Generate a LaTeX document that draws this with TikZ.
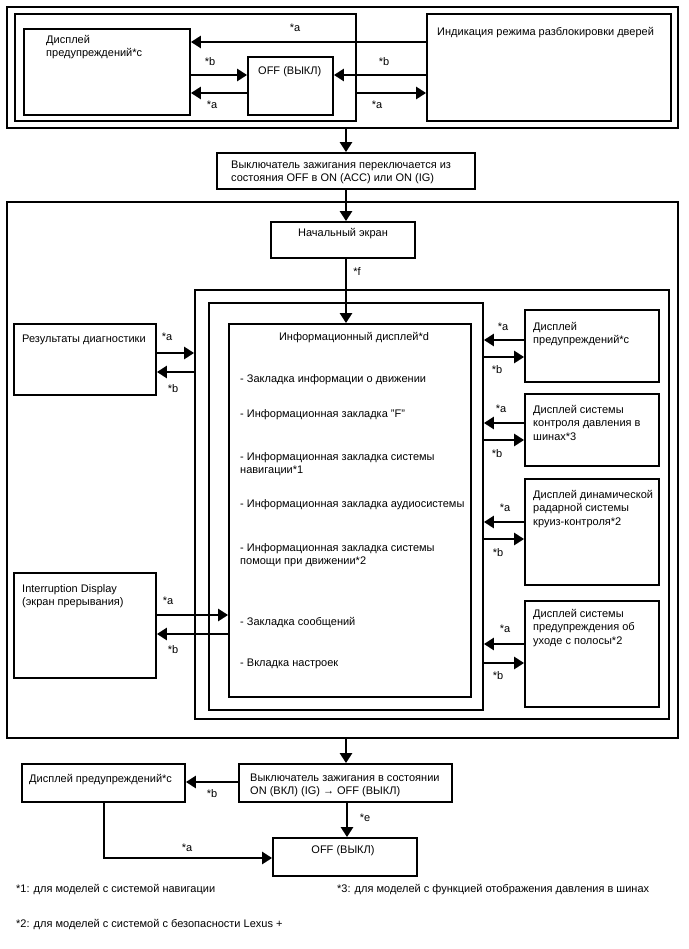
\documentclass[tikz,border=0pt]{standalone}
\usepackage{fontspec}
\setmainfont{Liberation Sans}
\usetikzlibrary{arrows.meta,fit}
\begin{document}
\begin{tikzpicture}[x=1pt,y=-1pt,
  box/.style={draw, line width=1.8pt, inner sep=0pt},
  txt/.style={anchor=north west, inner sep=0pt, yshift=-1.5pt, font=\fontsize{11}{13.5}\selectfont, align=left},
  ctxt/.style={inner sep=0pt, yshift=-1pt, font=\fontsize{11}{13.5}\selectfont},
  lbl/.style={inner sep=0pt, font=\fontsize{11}{13}\selectfont},
  arr/.style={line width=2.7pt, -{Triangle[length=10pt,width=12pt]}},
  ln/.style={line width=2.7pt}]
\useasboundingbox (0,0) rectangle (688,949);
% boxes
\node[box, fit={(7,7) (678,128)}] (A) {};
\node[box, fit={(15,14) (356,121)}] (B) {};
\node[box, fit={(24,29) (190,115)}] (warn1) {};
\node[box, fit={(248,57) (333,115)}] (off1) {};
\node[box, fit={(427,14) (671,121)}] (door) {};
\node[box, fit={(217,153) (475,189)}] (C) {};
\node[box, fit={(7,202) (678,738)}] (D) {};
\node[box, fit={(271,222) (415,258)}] (start) {};
\node[box, fit={(195,290) (669,719)}] (E) {};
\node[box, fit={(209,303) (483,710)}] (F) {};
\node[box, fit={(229,324) (471,697)}] (G) {};
\node[box, fit={(14,324) (156,395)}] (diag) {};
\node[box, fit={(14,573) (156,678)}] (intr) {};
\node[box, fit={(525,310) (659,382)}] (r1) {};
\node[box, fit={(525,394) (659,466)}] (r2) {};
\node[box, fit={(525,479) (659,585)}] (r3) {};
\node[box, fit={(525,601) (659,707)}] (r4) {};
\node[box, fit={(239,764) (452,802)}] (H) {};
\node[box, fit={(22,764) (185,802)}] (I) {};
\node[box, fit={(273,838) (417,876)}] (J) {};
% texts
\node[txt] (t-warn1) at (46,32) {\strut Дисплей\\предупреждений*c};
\node[txt] (t-off1) at (258,63) {\strut OFF (ВЫКЛ)};
\node[txt] (t-door) at (437,24) {\strut Индикация режима разблокировки дверей};
\node[txt] (t-C) at (231,157) {\strut Выключатель зажигания переключается из\\состояния OFF в ON (ACC) или ON (IG)};
\node[ctxt] (t-start) at (343,233) {Начальный экран};
\node[ctxt] (t-G) at (354,337) {Информационный дисплей*d};
\node[txt] (g1) at (240,371) {\strut - Закладка информации о движении};
\node[txt] (g2) at (240,406) {\strut - Информационная закладка "F"};
\node[txt] (g3) at (240,449) {\strut - Информационная закладка системы\\навигации*1};
\node[txt] (g4) at (240,496) {\strut - Информационная закладка аудиосистемы};
\node[txt] (g5) at (240,540) {\strut - Информационная закладка системы\\помощи при движении*2};
\node[txt] (g6) at (240,614) {\strut - Закладка сообщений};
\node[txt] (g7) at (240,655) {\strut - Вкладка настроек};
\node[txt] (t-diag) at (22,331) {\strut Результаты диагностики};
\node[txt] (t-intr) at (22,581) {\strut Interruption Display\\(экран прерывания)};
\node[txt] (t-r1) at (533,319) {\strut Дисплей\\предупреждений*c};
\node[txt] (t-r2) at (533,402) {\strut Дисплей системы\\контроля давления в\\шинах*3};
\node[txt] (t-r3) at (533,487) {\strut Дисплей динамической\\радарной системы\\круиз-контроля*2};
\node[txt] (t-r4) at (533,606) {\strut Дисплей системы\\предупреждения об\\уходе с полосы*2};
\node[txt] (t-H) at (250,770) {\strut Выключатель зажигания в состоянии\\ON (ВКЛ) (IG) → OFF (ВЫКЛ)};
\node[txt] (t-I) at (29,771) {\strut Дисплей предупреждений*c};
\node[ctxt] (t-J) at (343,850) {OFF (ВЫКЛ)};
\node[txt] (fn1) at (16,881) {\strut *1: для моделей с системой навигации};
\node[txt] (fn3) at (337,881) {\strut *3: для моделей с функцией отображения давления в шинах};
\node[txt] (fn2) at (16,916) {\strut *2: для моделей с системой с безопасности Lexus +};
% labels
\node[lbl] (la1) at (295,28) {*a};
\node[lbl] (lb1) at (210,62) {*b};
\node[lbl] (la2) at (212,105) {*a};
\node[lbl] (lb2) at (384,62) {*b};
\node[lbl] (la3) at (377,105) {*a};
\node[lbl] (lf) at (357,272) {*f};
\node[lbl] (la4) at (167,337) {*a};
\node[lbl] (lb4) at (173,389) {*b};
\node[lbl] (la5) at (168,601) {*a};
\node[lbl] (lb5) at (173,650) {*b};
\node[lbl] (la6) at (503,327) {*a};
\node[lbl] (lb6) at (497,370) {*b};
\node[lbl] (la7) at (501,409) {*a};
\node[lbl] (lb7) at (497,454) {*b};
\node[lbl] (la8) at (505,508) {*a};
\node[lbl] (lb8) at (498,553) {*b};
\node[lbl] (la9) at (505,629) {*a};
\node[lbl] (lb9) at (498,676) {*b};
\node[lbl] (lb10) at (212,794) {*b};
\node[lbl] (le) at (365,818) {*e};
\node[lbl] (la10) at (187,848) {*a};
% connectors
\coordinate (vx) at (346,0);
\draw[arr] (door.west |- 0,42) -- (warn1.east |- 0,42);
\draw[arr] (warn1.east |- 0,75) -- (off1.west |- 0,75);
\draw[arr] (off1.west |- 0,93) -- (warn1.east |- 0,93);
\draw[arr] (door.west |- 0,75) -- (off1.east |- 0,75);
\draw[arr] (B.east |- 0,93) -- (door.west |- 0,93);
\draw[arr] (A.south -| vx) -- (C.north -| vx);
\draw[arr] (C.south -| vx) -- (start.north -| vx);
\draw[arr] (start.south -| vx) -- (G.north -| vx);
\draw[arr] (diag.east |- 0,353) -- (E.west |- 0,353);
\draw[arr] (E.west |- 0,372) -- (diag.east |- 0,372);
\draw[arr] (intr.east |- 0,615) -- (G.west |- 0,615);
\draw[arr] (G.west |- 0,634) -- (intr.east |- 0,634);
\draw[arr] (r1.west |- 0,340) -- (F.east |- 0,340);
\draw[arr] (F.east |- 0,357) -- (r1.west |- 0,357);
\draw[arr] (r2.west |- 0,423) -- (F.east |- 0,423);
\draw[arr] (F.east |- 0,440) -- (r2.west |- 0,440);
\draw[arr] (r3.west |- 0,522) -- (F.east |- 0,522);
\draw[arr] (F.east |- 0,539) -- (r3.west |- 0,539);
\draw[arr] (r4.west |- 0,644) -- (F.east |- 0,644);
\draw[arr] (F.east |- 0,663) -- (r4.west |- 0,663);
\draw[arr] (D.south -| vx) -- (H.north -| vx);
\draw[arr] (H.west |- 0,782) -- (I.east |- 0,782);
\draw[arr] (H.south -| 347,0) -- (J.north -| 347,0);
\draw[arr] (I.south -| 104,0) |- (J.west |- 0,858);
\end{tikzpicture}
\end{document}
